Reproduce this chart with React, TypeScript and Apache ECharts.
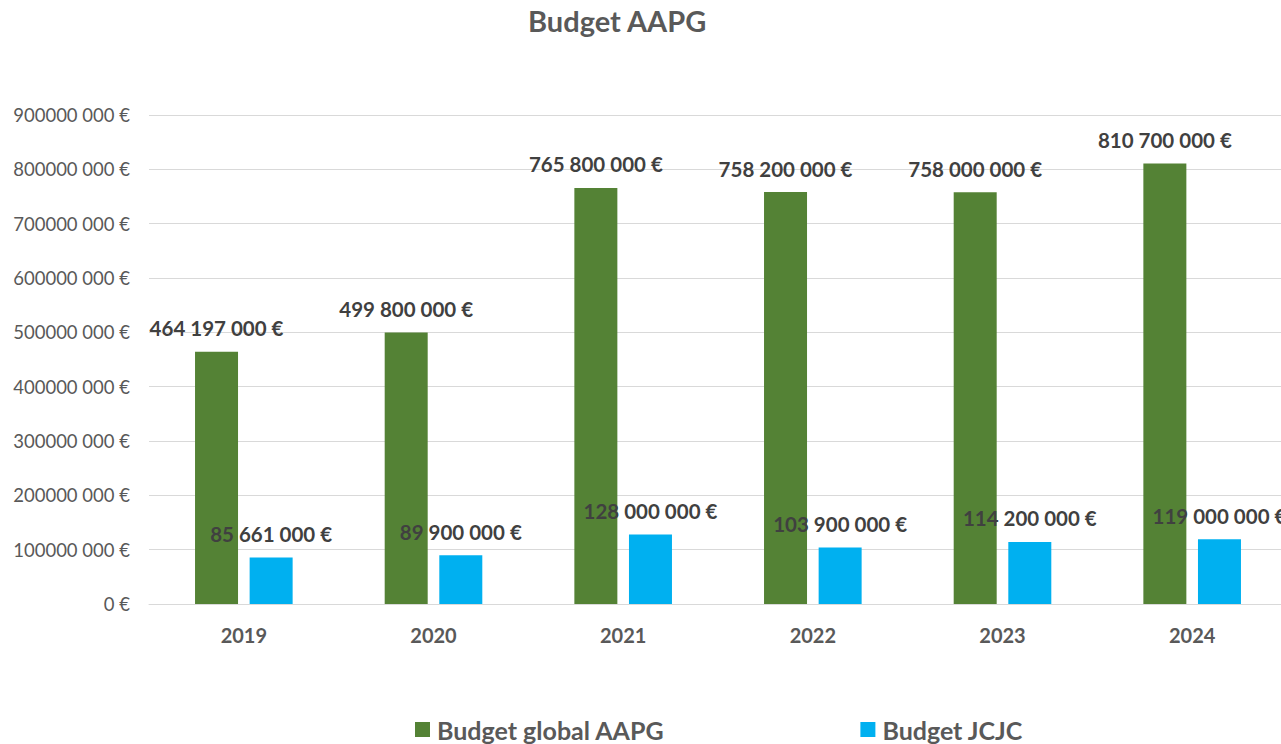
import React, { useEffect, useRef } from "react";
import * as echarts from "echarts";

const categories = ["2019", "2020", "2021", "2022", "2023", "2024"];
const budgetGlobal = [464197000, 499800000, 765800000, 758200000, 758000000, 810700000];
const budgetJCJC = [85661000, 89900000, 128000000, 103900000, 114200000, 119000000];
const seriesNames = ["Budget global AAPG", "Budget JCJC"];
const titleText = "Budget AAPG";

const FONT = "Lato, 'Open Sans', sans-serif";

function groupThousands(v: number): string {
  const s = Math.round(v).toString();
  return s.replace(/\B(?=(\d{3})+(?!\d))/g, " ");
}

function axisFormat(v: number): string {
  if (v === 0) return "0 €";
  const hi = Math.floor(v / 1000);
  const lo = (v % 1000).toString().padStart(3, "0");
  return hi + " " + lo + " €";
}

export default function App() {
  const ref = useRef<HTMLDivElement>(null);
  useEffect(() => {
    document.body.style.margin = "0";
    const chart = echarts.init(ref.current!, null, { renderer: "svg" });
    const labelStyle = {
      show: true,
      position: "top" as const,
      distance: 13,
      color: "#404040",
      fontWeight: "bold" as const,
      fontSize: 20.5,
      fontFamily: FONT,
      formatter: (p: any) => groupThousands(p.value) + " €",
    };
    chart.setOption({
      animation: false,
      backgroundColor: "#ffffff",
      title: {
        text: titleText,
        left: 523,
        top: 1,
        textStyle: { color: "#595959", fontSize: 29, fontWeight: "bold", fontFamily: FONT },
      },
      legend: {
        left: 410,
        top: 712,
        itemWidth: 15,
        itemHeight: 15,
        itemGap: 196,
        icon: "rect",
        textStyle: { color: "#595959", fontSize: 25, fontWeight: "bold", fontFamily: FONT, padding: [0, 0, 0, 2] },
        data: seriesNames,
      },
      grid: { left: 149, top: 115, width: 1138, height: 489, containLabel: false },
      xAxis: {
        type: "category",
        data: categories,
        axisLine: { show: true, lineStyle: { color: "#d9d9d9", width: 1 } },
        axisTick: { show: false },
        axisLabel: { color: "#595959", fontSize: 20, fontWeight: "bold", fontFamily: FONT, margin: 21 },
      },
      yAxis: {
        type: "value",
        min: 0,
        max: 900000000,
        interval: 100000000,
        axisLine: { show: false },
        axisTick: { show: false },
        splitLine: { lineStyle: { color: "#d9d9d9", width: 1 } },
        axisLabel: { color: "#595959", fontSize: 18.5, fontFamily: FONT, margin: 19, formatter: axisFormat },
      },
      series: [
        {
          name: seriesNames[0],
          type: "bar",
          data: budgetGlobal,
          barWidth: 43,
          barGap: "27%",
          itemStyle: { color: "#548235" },
          label: labelStyle,
        },
        {
          name: seriesNames[1],
          type: "bar",
          data: budgetJCJC,
          barWidth: 43,
          barGap: "27%",
          itemStyle: { color: "#00b0f0" },
          label: labelStyle,
        },
      ],
    });
    return () => chart.dispose();
  }, []);
  return (
    <div style={{ width: 1281, height: 744, overflow: "hidden" }}>
      <div ref={ref} style={{ width: 1300, height: 744 }} />
    </div>
  );
}
